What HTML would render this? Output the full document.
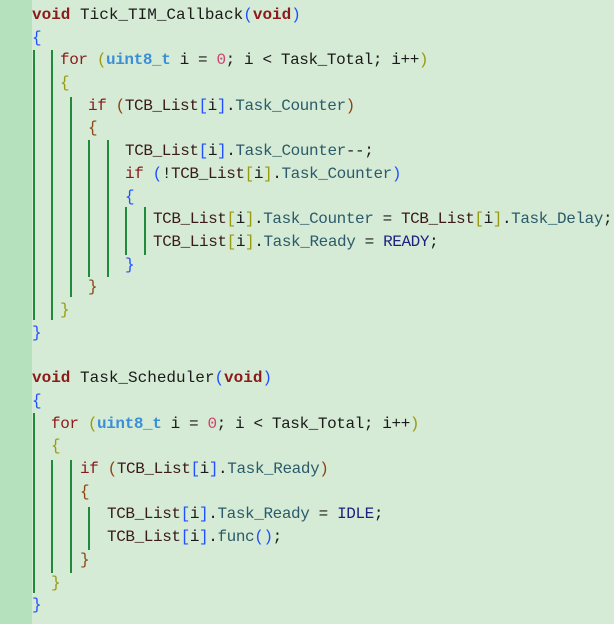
<!DOCTYPE html>
<html><head><meta charset="utf-8"><style>
html,body{margin:0;padding:0}
body{width:614px;height:624px;background:#d5ebd5;position:relative;overflow:hidden;font-family:"Liberation Mono","DejaVu Sans Mono",monospace;font-size:16px;color:#1a1a1a;letter-spacing:-0.4px}
.g{position:absolute;left:0;top:0;width:32px;height:624px;background:#b5e2bd}
.l{position:absolute;white-space:pre;height:23px;line-height:23px}
.v{position:absolute;width:1.5px;background:#1f8a3a}
.k{color:#8b1a1a;font-weight:bold}
.kw{color:#8b1a1a}
.t{color:#3b8fd8;font-weight:bold}
.m{color:#2b5a6a}
.n{color:#d04070}
.c{color:#202080}
.b0{color:#1e50ff}.b1{color:#9a9a10}.b2{color:#8b4513}
.o{color:#3a1a1a}
</style></head><body>
<div class="g"></div>
<div class="v" style="left:33px;top:50px;height:270px"></div>
<div class="v" style="left:51px;top:50px;height:270px"></div>
<div class="v" style="left:70px;top:97px;height:200px"></div>
<div class="v" style="left:88px;top:140px;height:137px"></div>
<div class="v" style="left:107px;top:140px;height:137px"></div>
<div class="v" style="left:125px;top:207px;height:48px"></div>
<div class="v" style="left:144px;top:207px;height:48px"></div>
<div class="v" style="left:33px;top:413px;height:180px"></div>
<div class="v" style="left:51px;top:460px;height:113px"></div>
<div class="v" style="left:70px;top:460px;height:113px"></div>
<div class="v" style="left:88px;top:507px;height:43px"></div>

<div class="l" style="left:32px;top:4px;letter-spacing:0"><span class="k">void</span> Tick_TIM_Callback<span class="b0">(</span><span class="k">void</span><span class="b0">)</span></div>
<div class="l" style="left:32px;top:27px"><span class="b0">{</span></div>
<div class="l" style="left:60px;top:49px"><span class="kw">for</span> <span class="b1">(</span><span class="t">uint8_t</span> i = <span class="n">0</span>; i &lt; Task_Total; i++<span class="b1">)</span></div>
<div class="l" style="left:60px;top:72px"><span class="b1">{</span></div>
<div class="l" style="left:88px;top:95px"><span class="kw">if</span> <span class="b2">(</span><span class="o">TCB_List</span><span class="b0">[</span>i<span class="b0">]</span>.<span class="m">Task_Counter</span><span class="b2">)</span></div>
<div class="l" style="left:88px;top:117px"><span class="b2">{</span></div>
<div class="l" style="left:125px;top:140px"><span class="o">TCB_List</span><span class="b0">[</span>i<span class="b0">]</span>.<span class="m">Task_Counter</span>--;</div>
<div class="l" style="left:125px;top:163px"><span class="kw">if</span> <span class="b0">(</span>!<span class="o">TCB_List</span><span class="b1">[</span>i<span class="b1">]</span>.<span class="m">Task_Counter</span><span class="b0">)</span></div>
<div class="l" style="left:125px;top:186px"><span class="b0">{</span></div>
<div class="l" style="left:153px;top:208px;letter-spacing:-0.42px"><span class="o">TCB_List</span><span class="b1">[</span>i<span class="b1">]</span>.<span class="m">Task_Counter</span> = <span class="o">TCB_List</span><span class="b1">[</span>i<span class="b1">]</span>.<span class="m">Task_Delay</span>;</div>
<div class="l" style="left:153px;top:231px"><span class="o">TCB_List</span><span class="b1">[</span>i<span class="b1">]</span>.<span class="m">Task_Ready</span> = <span class="c">READY</span>;</div>
<div class="l" style="left:125px;top:254px"><span class="b0">}</span></div>
<div class="l" style="left:88px;top:276px"><span class="b2">}</span></div>
<div class="l" style="left:60px;top:299px"><span class="b1">}</span></div>
<div class="l" style="left:32px;top:322px"><span class="b0">}</span></div>

<div class="l" style="left:32px;top:367px;letter-spacing:0"><span class="k">void</span> Task_Scheduler<span class="b0">(</span><span class="k">void</span><span class="b0">)</span></div>
<div class="l" style="left:32px;top:390px"><span class="b0">{</span></div>
<div class="l" style="left:51px;top:413px"><span class="kw">for</span> <span class="b1">(</span><span class="t">uint8_t</span> i = <span class="n">0</span>; i &lt; Task_Total; i++<span class="b1">)</span></div>
<div class="l" style="left:51px;top:435px"><span class="b1">{</span></div>
<div class="l" style="left:80px;top:458px"><span class="kw">if</span> <span class="b2">(</span><span class="o">TCB_List</span><span class="b0">[</span>i<span class="b0">]</span>.<span class="m">Task_Ready</span><span class="b2">)</span></div>
<div class="l" style="left:80px;top:481px"><span class="b2">{</span></div>
<div class="l" style="left:107px;top:503px"><span class="o">TCB_List</span><span class="b0">[</span>i<span class="b0">]</span>.<span class="m">Task_Ready</span> = <span class="c">IDLE</span>;</div>
<div class="l" style="left:107px;top:526px"><span class="o">TCB_List</span><span class="b0">[</span>i<span class="b0">]</span>.<span class="m">func</span><span class="b0">()</span>;</div>
<div class="l" style="left:80px;top:549px"><span class="b2">}</span></div>
<div class="l" style="left:51px;top:572px"><span class="b1">}</span></div>
<div class="l" style="left:32px;top:594px"><span class="b0">}</span></div>
</body></html>
